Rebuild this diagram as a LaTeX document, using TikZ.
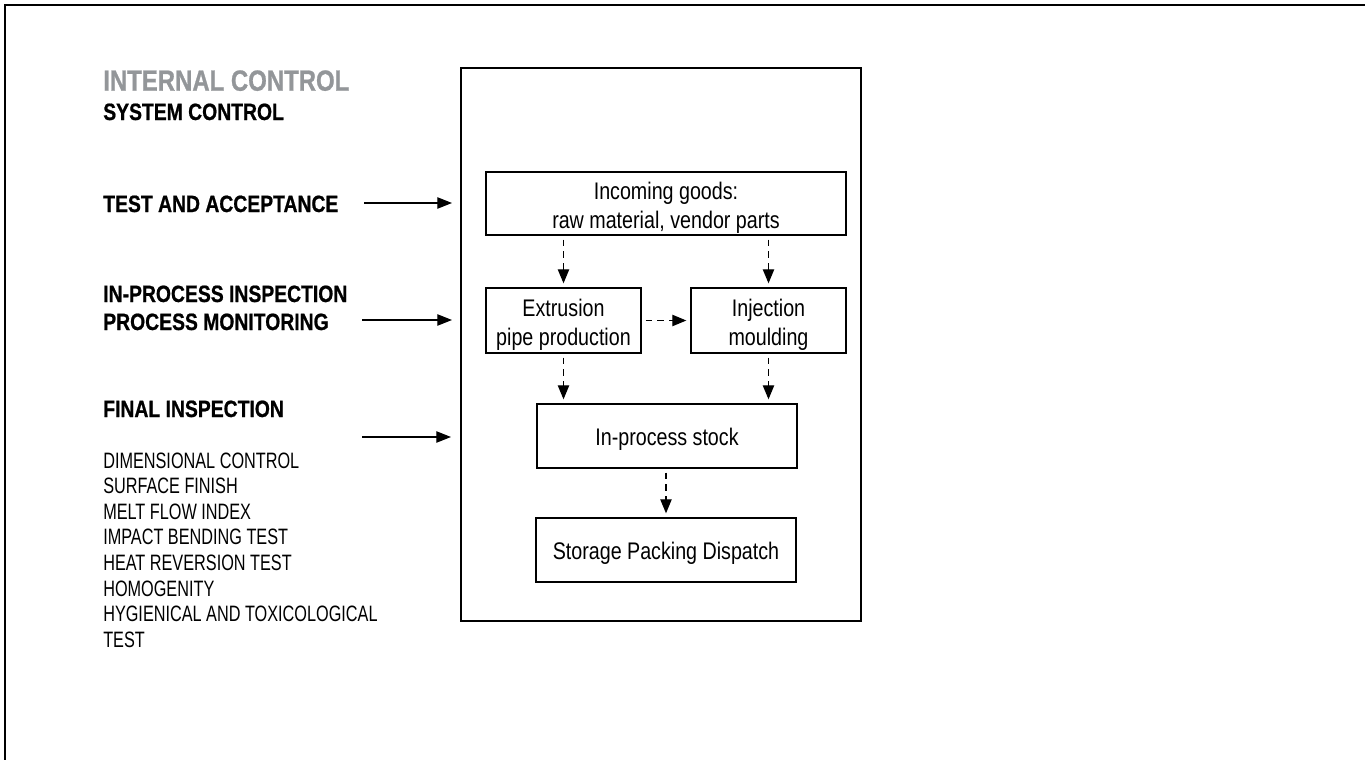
\documentclass[tikz,border=0pt]{standalone}
\usepackage{fontspec}
\setmainfont{Liberation Sans}[FakeStretch=0.82, BoldFeatures={FakeBold=0.8}]
\newfontfamily\listfont{Liberation Sans}[FakeStretch=0.73]
\usetikzlibrary{arrows.meta}
\definecolor{headgray}{RGB}{147,150,153}
\newcommand{\tstrut}{\rule{0pt}{19.5pt}}
\newcommand{\sstrut}{\rule{0pt}{18pt}}
\tikzset{
  box/.style={draw, line width=1pt, inner sep=0pt, outer sep=0pt, align=center,
    font=\fontsize{18}{22}\selectfont},
  flow/.style={line width=0.9pt, dash pattern=on 5pt off 3.75pt,
    -{Triangle[length=10.5pt,width=8.5pt]}, shorten <=3.5pt, shorten >=3.5pt},
  feed/.style={line width=0.9pt, -{Triangle[length=11pt,width=8.5pt]}},
  head/.style={anchor=base west, inner sep=0pt, font=\bfseries\fontsize{17.7}{21}\selectfont},
  item/.style={anchor=base west, inner sep=0pt, font=\listfont\fontsize{16.7}{19.2}\selectfont}
}
\begin{document}
\begin{tikzpicture}[x=0.75pt,y=-0.75pt]
\useasboundingbox (0,0) rectangle (1365,760);
% page border (top and left)
\draw[line width=1.3pt] (5,760) -- (5,5) -- (1365,5);

% left headings
\node[anchor=base west, inner sep=0pt, text=headgray, font=\bfseries\fontsize{21.9}{26}\selectfont] (ic) at (103,90.7) {INTERNAL CONTROL};
\node[head] (sc) at (103,120) {SYSTEM CONTROL};
\node[head] (ta) at (103,212) {TEST AND ACCEPTANCE};
\node[head] (ipi) at (103,302) {IN-PROCESS INSPECTION};
\node[head] (pm) at (103,330) {PROCESS MONITORING};
\node[head] (fi) at (103,417) {FINAL INSPECTION};

\node[item] (l1) at (103,468) {DIMENSIONAL CONTROL};
\node[item] (l2) at (103,493.6) {SURFACE FINISH};
\node[item] (l3) at (103,519.2) {MELT FLOW INDEX};
\node[item] (l4) at (103,544.8) {IMPACT BENDING TEST};
\node[item] (l5) at (103,570.4) {HEAT REVERSION TEST};
\node[item] (l6) at (103,596) {HOMOGENITY};
\node[item] (l7) at (103,621.6) {HYGIENICAL AND TOXICOLOGICAL};
\node[item] (l8) at (103,647.2) {TEST};

% outer frame
\node[draw, line width=1pt, inner sep=0pt, outer sep=0pt,
      minimum width=300pt, minimum height=414.75pt] (frame) at (661,344.5) {};

% process boxes
\node[box, minimum width=270pt, minimum height=47.25pt] (inc) at (666,203.5)
  {\tstrut Incoming goods:\\raw material, vendor parts};
\node[box, minimum width=116.25pt, minimum height=48.75pt] (ext) at (563.5,320.5)
  {\tstrut Extrusion\\pipe production};
\node[box, minimum width=116.25pt, minimum height=48.75pt] (inj) at (768.5,320.5)
  {\tstrut Injection\\moulding};
\node[box, minimum width=195pt, minimum height=48pt] (stock) at (667,436)
  {\sstrut In-process stock};
\node[box, minimum width=195pt, minimum height=48pt] (store) at (666,550)
  {\sstrut Storage Packing Dispatch};

% flow arrows
\draw[flow] (inc.south -| ext.north) -- (ext.north);
\draw[flow] (inc.south -| inj.north) -- (inj.north);
\draw[flow] (ext.east) -- (inj.west);
\draw[flow] (ext.south) -- (ext.south |- stock.north);
\draw[flow] (inj.south) -- (inj.south |- stock.north);
\draw[flow] (stock.south -| store.north) -- (store.north);

% feed arrows
\coordinate (a1s) at (364,203);
\coordinate (a1e) at (452,203);
\coordinate (a2s) at (362,320);
\coordinate (a2e) at (452,320);
\coordinate (a3s) at (362,437);
\coordinate (a3e) at (451,437);
\draw[feed] (a1s) -- (a1e);
\draw[feed] (a2s) -- (a2e);
\draw[feed] (a3s) -- (a3e);
\end{tikzpicture}
\end{document}
